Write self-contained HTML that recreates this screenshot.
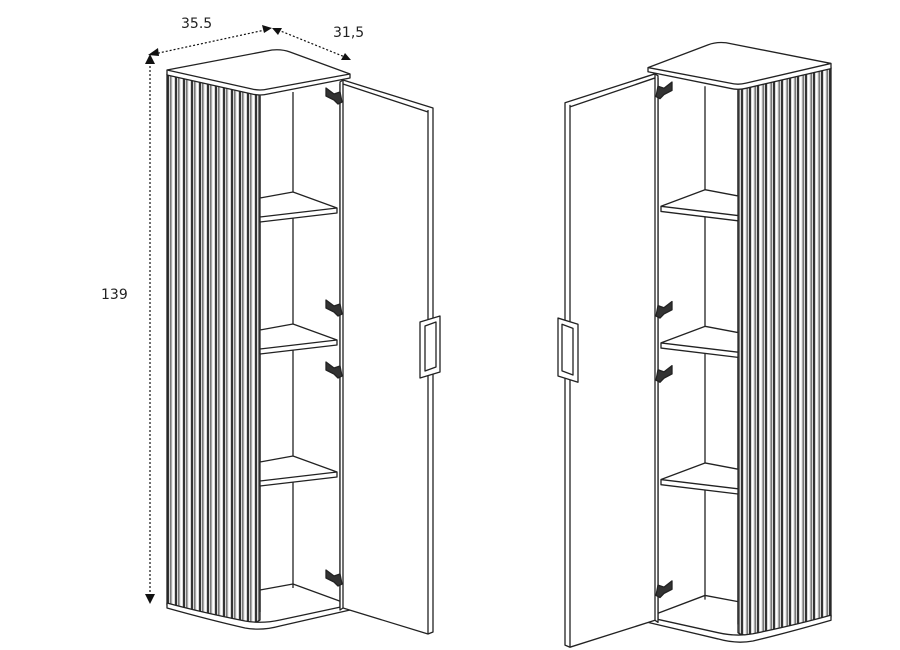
<!DOCTYPE html>
<html><head><style>html,body{margin:0;padding:0;background:#fff}svg{display:block}</style></head>
<body>
<svg width="900" height="650" viewBox="0 0 900 650" xmlns="http://www.w3.org/2000/svg">
<defs>
<pattern id="flute" x="167" y="0" width="8" height="10" patternUnits="userSpaceOnUse">
<rect width="8" height="10" fill="#d8d8d8"/>
<rect x="0" width="2" height="10" fill="#333"/>
<rect x="3" width="1.5" height="10" fill="#777"/>
<rect x="5.5" width="1.5" height="10" fill="#fff"/>
</pattern>
<g id="cab" stroke="#222" stroke-width="1.3" fill="none" stroke-linejoin="round">
<path d="M167,74 L167,605 Q200,615 240,622 Q255,624 260,620 L260,94 Q240,90 167,74 Z" fill="url(#flute)"/>
<path d="M167,70 L272,50 Q282,49 290,52 L350,74 L350,78 L268,94 Q260,96 252,94 L167,75 Z" fill="#fff"/>
<path d="M167,70 L252,89 Q260,91 268,89 L350,74"/>
<line x1="293" y1="92" x2="293" y2="588"/>
<line x1="340" y1="84" x2="340" y2="612"/>
<line x1="260" y1="96" x2="260" y2="612"/>
<path d="M260,198 L293,192 L337,208 L337,213 L260,222 Z M260,217 L337,208" fill="#fff"/>
<path d="M260,330 L293,324 L337,340 L337,345 L260,354 Z M260,349 L337,340" fill="#fff"/>
<path d="M260,462 L293,456 L337,472 L337,477 L260,486 Z M260,481 L337,472" fill="#fff"/>
<path d="M260,590 L293,584 L345,603"/>
<path d="M167,603 L167,608 Q210,620 245,628 Q262,631 280,626 L350,610 L350,605 L280,620 Q262,624 245,621 Q200,612 167,603 Z" fill="#fff"/>
<path d="M340,82 L343,80 L433,108 L433,632 L428,634 L343,608 L340,610 Z" fill="#fff"/>
<path d="M343,80 L343,608 M428,110 L428,634 M343,84 L428,112"/>
<path d="M420,322 L440,316 L440,372 L420,378 Z" fill="#fff"/>
<path d="M425,326 L436,322 L436,367 L425,371 Z"/>
<g fill="#333" stroke="#222">
<path d="M326,88 l8,6 l6,-2 l2,10 l-4,2 l-4,-4 l-8,-4 z"/>
<path d="M326,300 l8,6 l6,-2 l2,10 l-4,2 l-4,-4 l-8,-4 z"/>
<path d="M326,362 l8,6 l6,-2 l2,10 l-4,2 l-4,-4 l-8,-4 z"/>
<path d="M326,570 l8,6 l6,-2 l2,10 l-4,2 l-4,-4 l-8,-4 z"/>
</g>
</g>
</defs>
<use href="#cab"/>
<g transform="translate(998,-9) scale(-1,1.035)"><use href="#cab"/></g>
<g stroke="#111" stroke-width="1.2" stroke-dasharray="2,2" fill="none">
<line x1="150" y1="62" x2="150" y2="598"/>
<line x1="154" y1="54" x2="265" y2="30"/>
<line x1="278" y1="30" x2="345" y2="57"/>
</g>
<g fill="#111">
<path d="M150,54 l-5,10 l10,0 z"/>
<path d="M150,604 l-5,-10 l10,0 z"/>
<path d="M148,55 l10,-7 l1,8 z"/>
<path d="M272,28 l-10,-3 l2,8 z"/>
<path d="M272,28 l10,0 l-4,7 z"/>
<path d="M351,60 l-10,0 l4,-7 z"/>
</g>
<g font-family="DejaVu Sans, sans-serif" font-size="14" fill="#222">
<text x="181" y="28">35.5</text>
<text x="333" y="37">31,5</text>
<text x="101" y="299">139</text>
</g>
</svg>
</body></html>
